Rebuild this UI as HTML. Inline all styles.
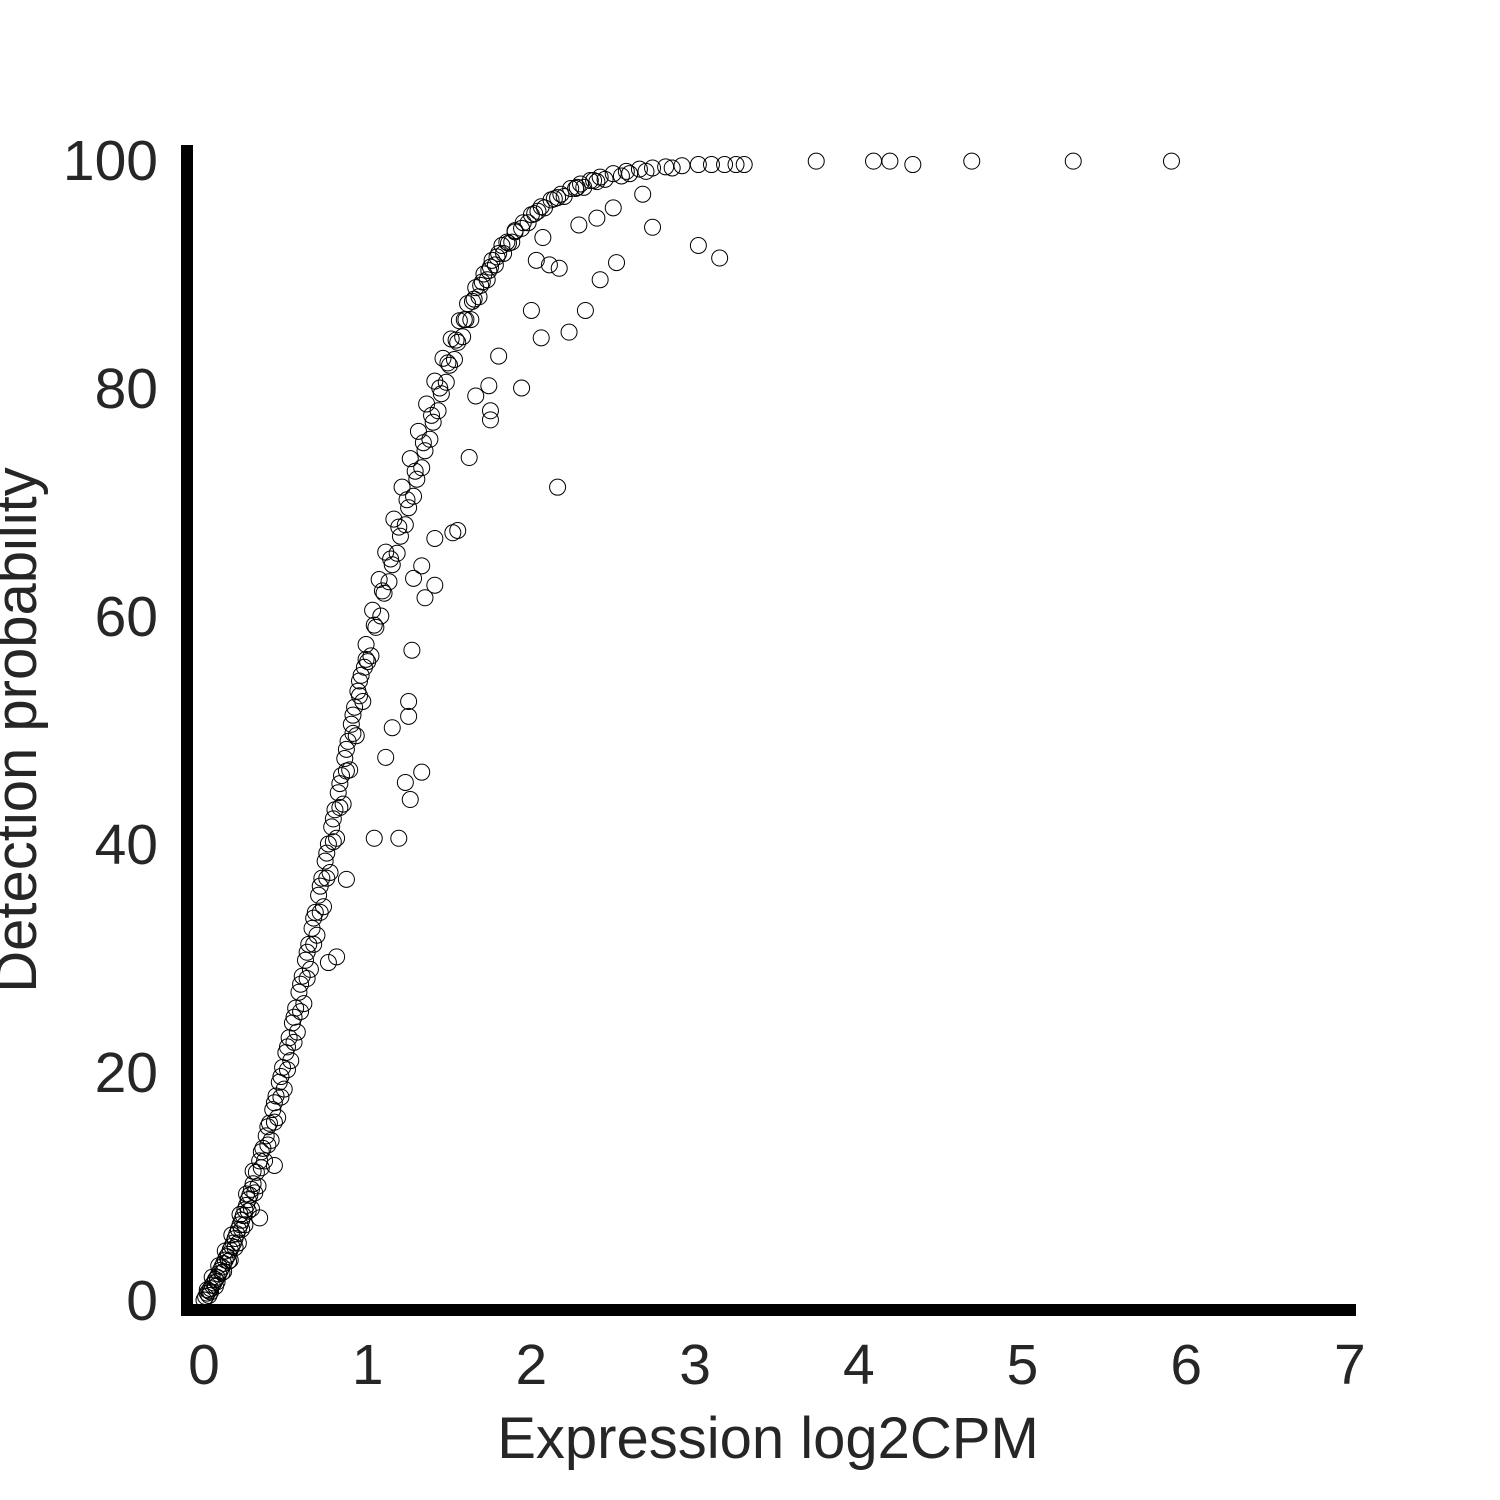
<!DOCTYPE html>
<html><head><meta charset="utf-8"><style>
html,body{margin:0;padding:0;background:#fff;}
svg{display:block;}
text{font-family:"Liberation Sans",sans-serif;fill:#262626;}
</style></head><body>
<svg id="chart" width="1500" height="1500" viewBox="0 0 1500 1500">
<rect width="1500" height="1500" fill="#fff"/>
<g id="points"></g>
<g id="axes"></g>
</svg>
<script>
const xTicks=[0,1,2,3,4,5,6,7];
const yTicks=[0,20,40,60,80,100];
const curveX=[0,0.01,0.02,0.03,0.04,0.05,0.06,0.07,0.08,0.09,0.10,0.11,0.12,0.13,0.14,0.15,0.16,0.17,0.18,0.19,0.20,0.21,0.22,0.23,0.24,0.25,0.26,0.27,0.28,0.29,0.30,0.32,0.34,0.36,0.38,0.40,0.42,0.44,0.46,0.48,0.50,0.52,0.54,0.56,0.58,0.60,0.62,0.64,0.66,0.68,0.70,0.72,0.74,0.76,0.78,0.80,0.82,0.84,0.86,0.88,0.90,0.92,0.94,0.96,0.98,1.00,1.05,1.10,1.15,1.20,1.25,1.30,1.35,1.40,1.45,1.50,1.55,1.60,1.65,1.70,1.75,1.80,1.85,1.90,1.95,2.00,2.06,2.12,2.18,2.24,2.30,2.36,2.42,2.50,2.58,2.66,2.74,2.82,2.92,3.02,3.10,3.18,3.25,3.30];
const curveY=[0,0.3,0.6,0.8,1.0,1.3,1.5,1.8,2.0,2.3,2.6,2.9,3.2,3.5,3.8,4.0,4.4,4.7,5.0,5.4,5.8,6.2,6.6,7.0,7.4,7.9,8.3,8.8,9.2,9.7,10.2,11.2,12.2,13.3,14.4,15.5,16.7,17.9,19.1,20.4,21.7,23.0,24.3,25.6,27.0,28.4,29.8,31.2,32.6,34.0,35.5,37.0,38.5,40.0,41.5,43.0,44.5,46.0,47.5,49.0,50.5,52.0,53.4,54.8,55.5,56.0,59.0,62.0,64.5,67.0,69.5,72.0,74.5,77.0,79.5,82.0,84.0,86.0,87.8,89.3,90.6,91.8,92.8,93.7,94.5,95.2,95.9,96.5,97.0,97.5,97.9,98.2,98.5,98.8,99.0,99.2,99.3,99.4,99.5,99.6,99.6,99.6,99.6,99.6];
const bandX=[0.03,0.07,0.12,0.16,0.21,0.25,0.29,0.33,0.37,0.41,0.45,0.49,0.53,0.57,0.61,0.65,0.69,0.73,0.77,0.81,0.85,0.89,0.93,0.97,1.02,1.08,1.13,1.18,1.23,1.28,1.33,1.38,1.43,1.48,1.53,1.58,1.63,1.68,1.73,1.78,1.83,1.88,1.98,2.08,2.2,2.32,2.45,2.6];
const bandY=[0.4,1.2,2.5,3.5,5.0,6.6,8.0,10.0,12.2,14.0,16.0,18.5,21.0,23.5,26.0,29.0,32.0,34.5,37.5,40.5,43.5,46.5,49.5,52.5,56.5,60.0,63.0,65.5,68.0,70.5,73.0,75.5,78.0,80.5,82.5,84.5,86.0,88.0,89.5,90.8,91.8,92.8,94.5,95.8,96.8,97.6,98.3,98.8];
const band2X=[0.02,0.05,0.09,0.13,0.17,0.22,0.26,0.3,0.35,0.39,0.43,0.47,0.51,0.55,0.59,0.63,0.67,0.71,0.75,0.79,0.83,0.87,0.91,0.95,0.99,1.03,1.07,1.11,1.16,1.21,1.26,1.31,1.36,1.41,1.46,1.51,1.56,1.61,1.66,1.71,1.76,1.82,1.9,2.02,2.14,2.27,2.4,2.55,2.7,2.86];
const band2Y=[0.9,2.0,3.0,4.3,5.7,7.5,9.3,11.3,13.0,15.2,17.3,19.6,22.2,24.8,27.7,30.5,33.5,36.3,39.2,42.2,45.3,48.3,51.3,54.3,57.5,60.5,63.2,65.6,68.5,71.3,73.8,76.2,78.6,80.6,82.6,84.3,85.9,87.4,88.8,90.0,91.2,92.5,93.8,95.3,96.6,97.5,98.1,98.6,99.0,99.3];
const band3X=[0.04,0.08,0.11,0.15,0.19,0.23,0.27,0.31,0.35,0.39,0.43,0.47,0.51,0.55,0.59,0.63,0.67,0.71,0.75,0.79,0.83,0.87,0.91,0.95,0.99,1.04,1.09,1.14,1.19,1.24,1.29,1.34,1.39,1.44,1.49,1.54,1.59,1.64,1.69,1.74,1.79,1.86,1.94,2.04,2.16,2.28,2.38];
const band3Y=[0.7,1.6,2.4,3.4,4.6,6.2,7.8,9.4,11.6,13.6,15.6,17.8,20.2,22.6,25.3,28.2,31.2,34.0,37.0,40.2,43.2,46.4,49.7,53.0,56.2,59.2,62.2,65.0,67.8,70.2,72.7,75.2,77.6,80.0,82.2,84.2,86.0,87.6,89.0,90.3,91.5,92.7,94.0,95.5,96.7,97.6,98.2];
const outX=[3.74,4.09,4.19,4.33,4.69,5.31,5.91,3.02,3.15,2.74,2.52,2.42,2.68,2.50,2.40,2.29,2.33,2.23,2.06,2.00,1.94,2.07,2.03,2.11,2.17,2.16,1.80,1.74,1.75,1.75,1.66,1.62,1.55,1.52,1.41,1.41,1.35,1.33,1.28,1.27,1.25,1.25,1.15,1.11,1.33,1.23,1.26,1.04,1.19,0.87,0.81,0.76,0.43,0.34];
const outY=[99.9,99.9,99.9,99.6,99.9,99.9,99.9,92.5,91.4,94.1,91.0,89.5,97.0,95.8,94.9,94.3,86.8,84.9,84.4,86.8,80.0,93.2,91.2,90.8,90.5,71.3,82.8,80.2,78.0,77.2,79.3,73.9,67.5,67.3,66.8,62.7,61.6,64.4,63.3,57.0,52.5,51.2,50.2,47.6,46.3,45.4,43.9,40.5,40.5,36.9,30.1,29.6,11.8,7.2];

const NS='http://www.w3.org/2000/svg';
const X0=204,XS=163.7,Y0=1300,YS=11.4;
function sx(v){return X0+v*XS;}
function sy(v){return Y0-v*YS;}
const pts=document.getElementById('points');
function drawSeries(xs,ys,name){
  for(let i=0;i<xs.length;i++){
    const c=document.createElementNS(NS,'circle');
    c.setAttribute('cx',sx(xs[i]));c.setAttribute('cy',sy(ys[i]));
    c.setAttribute('r',8);c.setAttribute('fill','none');
    c.setAttribute('stroke','#000');c.setAttribute('stroke-width',1);
    
    
    pts.appendChild(c);
  }
}
drawSeries(curveX,curveY,'curve-point');
drawSeries(bandX,bandY,'band-point');
drawSeries(band2X,band2Y,'band-point');
drawSeries(band3X,band3Y,'band-point');
drawSeries(outX,outY,'outlier-point');

const ax=document.getElementById('axes');
function el(tag,attrs,txt){const e=document.createElementNS(NS,tag);for(const k in attrs)e.setAttribute(k,attrs[k]);if(txt!==undefined)e.textContent=txt;ax.appendChild(e);return e;}
const ys=el('line',{x1:187,y1:145,x2:187,y2:1316,stroke:'#000','stroke-width':12});


const xsL=el('line',{x1:181,y1:1310,x2:1356,y2:1310,stroke:'#000','stroke-width':12});


xTicks.forEach(t=>{
  const e=el('text',{x:sx(t),y:1384,'font-size':57,'text-anchor':'middle'},String(t));
  
  
});
yTicks.forEach(t=>{
  const e=el('text',{x:158,y:sy(t)+20,'font-size':57,'text-anchor':'end'},String(t));
  
  
});
const xt=el('text',{x:768,y:1458,'font-size':58,'text-anchor':'middle'},'Expression log2CPM');


const yt=el('text',{x:0,y:0,'font-size':58,'text-anchor':'middle',transform:'translate(36,730) rotate(-90)'},'Detection probability');


</script>
</body></html>
